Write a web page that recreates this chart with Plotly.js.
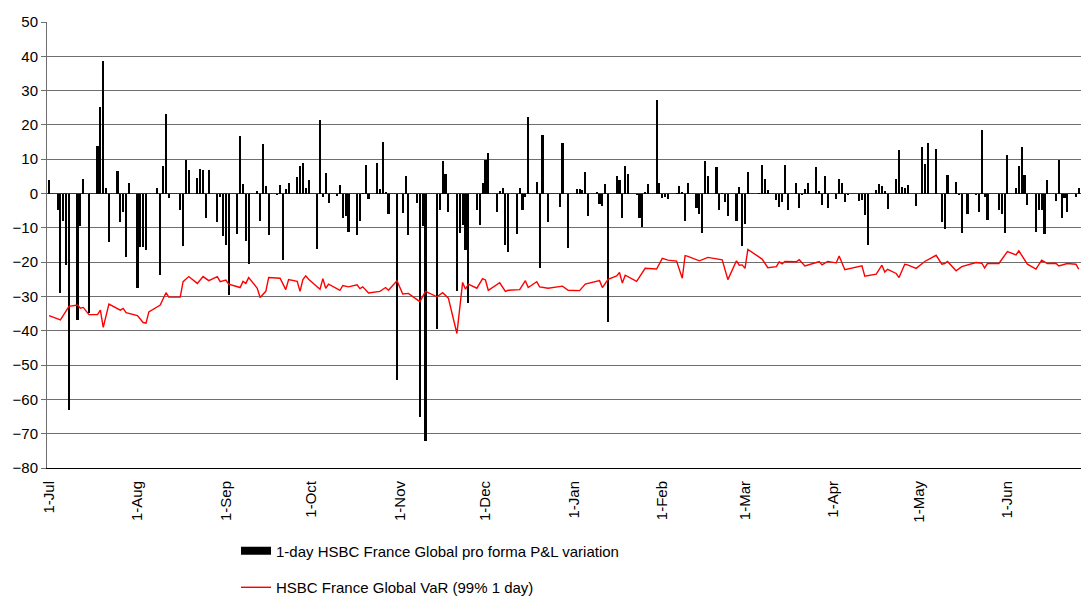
<!DOCTYPE html>
<html>
<head>
<meta charset="utf-8">
<script src="https://cdn.plot.ly/plotly-3.0.1.min.js"></script>
<style>html,body{margin:0;padding:0;background:#fff;}#chart{width:1081px;height:598px;}</style>
</head>
<body>
<div id="chart"></div>
<script>
// 1-day P&L variation (trading days, Jul 2011 - Jun 2012)
const pnlDates = [
"2011-07-01","2011-07-04","2011-07-05","2011-07-06","2011-07-07","2011-07-08","2011-07-11","2011-07-12","2011-07-13","2011-07-15",
"2011-07-18","2011-07-19","2011-07-20","2011-07-21","2011-07-22","2011-07-25","2011-07-26","2011-07-27","2011-07-28","2011-07-29",
"2011-08-01","2011-08-02","2011-08-03","2011-08-04","2011-08-08","2011-08-09","2011-08-10","2011-08-11","2011-08-12",
"2011-08-16","2011-08-17","2011-08-18","2011-08-19","2011-08-22","2011-08-23","2011-08-24","2011-08-25","2011-08-26",
"2011-08-29","2011-08-30","2011-08-31","2011-09-01","2011-09-02","2011-09-05","2011-09-06","2011-09-07","2011-09-08","2011-09-09",
"2011-09-12","2011-09-13","2011-09-14","2011-09-15","2011-09-16","2011-09-19","2011-09-20","2011-09-21","2011-09-22","2011-09-23",
"2011-09-26","2011-09-27","2011-09-28","2011-09-29","2011-09-30","2011-10-03","2011-10-04","2011-10-05","2011-10-06","2011-10-07",
"2011-10-10","2011-10-11","2011-10-12","2011-10-13","2011-10-14","2011-10-17","2011-10-18","2011-10-19","2011-10-20","2011-10-21",
"2011-10-24","2011-10-25","2011-10-26","2011-10-27","2011-10-28","2011-10-31","2011-11-02","2011-11-03","2011-11-04",
"2011-11-07","2011-11-08","2011-11-09","2011-11-10","2011-11-14","2011-11-15","2011-11-16","2011-11-17","2011-11-18",
"2011-11-21","2011-11-22","2011-11-23","2011-11-24","2011-11-25","2011-11-28","2011-11-29","2011-11-30","2011-12-01","2011-12-02",
"2011-12-05","2011-12-06","2011-12-07","2011-12-08","2011-12-09","2011-12-12","2011-12-13","2011-12-14","2011-12-15","2011-12-16",
"2011-12-19","2011-12-20","2011-12-21","2011-12-23","2011-12-27","2011-12-28","2011-12-30",
"2012-01-02","2012-01-03","2012-01-04","2012-01-05","2012-01-06","2012-01-09","2012-01-10","2012-01-11","2012-01-12","2012-01-13",
"2012-01-16","2012-01-17","2012-01-18","2012-01-19","2012-01-20","2012-01-23","2012-01-24","2012-01-25","2012-01-26","2012-01-27",
"2012-01-30","2012-01-31","2012-02-01","2012-02-02","2012-02-03","2012-02-06","2012-02-07","2012-02-08","2012-02-09","2012-02-10",
"2012-02-13","2012-02-14","2012-02-15","2012-02-16","2012-02-17","2012-02-20","2012-02-21","2012-02-22","2012-02-23","2012-02-24",
"2012-02-27","2012-02-28","2012-02-29","2012-03-01","2012-03-02","2012-03-06","2012-03-07","2012-03-08","2012-03-09",
"2012-03-12","2012-03-13","2012-03-14","2012-03-15","2012-03-16","2012-03-19","2012-03-20","2012-03-21","2012-03-22","2012-03-23",
"2012-03-26","2012-03-27","2012-03-28","2012-03-29","2012-03-30","2012-04-02","2012-04-03","2012-04-04","2012-04-05","2012-04-06",
"2012-04-10","2012-04-11","2012-04-12","2012-04-13","2012-04-16","2012-04-17","2012-04-18","2012-04-19","2012-04-20",
"2012-04-23","2012-04-24","2012-04-25","2012-04-26","2012-04-27","2012-04-30","2012-05-02","2012-05-03","2012-05-04",
"2012-05-07","2012-05-09","2012-05-10","2012-05-11","2012-05-14","2012-05-15","2012-05-16","2012-05-18",
"2012-05-21","2012-05-22","2012-05-23","2012-05-24","2012-05-25","2012-05-29","2012-05-30","2012-05-31","2012-06-01",
"2012-06-04","2012-06-05","2012-06-06","2012-06-07","2012-06-08","2012-06-11","2012-06-12","2012-06-13","2012-06-14","2012-06-15",
"2012-06-18","2012-06-19","2012-06-20","2012-06-21","2012-06-22","2012-06-25","2012-06-26"
];
const pnlValues = [
4,-4.8,-29,-8,-20.8,-63,-37,-9.6,4.2,-34.9,
13.9,25.1,38.5,1.5,-14.2,6.7,-8.2,-5.4,-18.5,3.1,
-27.6,-15.5,-15.7,-16.4,1.5,-23.7,7.9,23.3,-1.2,
-4.9,-15.4,9.8,6.8,4.4,7.2,6.8,-7.1,6.9,
-8.4,-1,-12.5,-14.9,-29.6,-11.7,16.8,2.7,-13.8,-20.4,
0.6,-8,14.3,2.2,-12,-0.4,2.5,-19.4,1.2,3.2,
4.7,7.9,9,1.5,4,-16.1,21.5,-1.1,5.9,-2.9,
-0.8,2.5,-7,-6.4,-11.3,-12.2,-8,0.2,8.3,-1.7,
8.8,1.3,15,0.4,-6,-54.3,-5.7,5.1,-12,
-2.7,-65.2,-9.5,-72.1,-39.5,-4.9,9.4,5.8,-5.5,
-28.5,-11.4,-9.2,-16.4,-31.8,-4.7,-9.2,3.2,9.8,11.9,
-5.5,0.6,1.5,-15,-16.9,-11.7,1.7,-4.9,-0.9,22.4,
3.5,-21.6,17.1,-8.4,-3.8,14.6,-15.9,
1.3,1.3,1.1,6.4,-6.4,0.4,-3.1,-3.5,2.7,-37.4,
5,3.9,-7.2,8.1,5.7,-0.4,-7.1,-9.7,0.5,2.9,
27.3,3.2,-1.3,-1,-1.5,0.2,2.3,0.4,-8,3.2,
-4.3,-6,-11.5,9.4,5,7.7,-4.7,0.1,-2.5,-6.4,
-8,1.8,-15.4,-8.9,6.2,0.2,8.3,4.2,1.1,
-1.9,-3.8,-2.6,8.3,-4.9,3.2,-4.1,-0.5,1.4,3,
7.6,0.8,-3.2,5,-4.1,-1.5,4.2,3.1,-2.4,-0.3,
-2.3,-1.8,-6.2,-15.1,1,2.7,2.1,0.7,-4.4,
4.2,12.6,2,1.6,2.5,-3.5,13.6,8.6,14.8,
12.9,-8.2,-10.2,5.4,3.5,-0.4,-11.4,-6,
-0.5,-5.5,18.6,-1,-7.6,-4.9,-6,-11.4,11.2,
1.6,8,13.6,5.3,-3.3,-11.3,-4.7,-4.7,-11.8,4,
-2.3,9.8,-7.2,-1.2,-5.5,-1,1.7
];

// VaR (99% 1 day), read at the line's turning points
const varDates = [
"2011-07-01","2011-07-05","2011-07-08","2011-07-11","2011-07-12","2011-07-13","2011-07-15","2011-07-18","2011-07-19","2011-07-20",
"2011-07-22","2011-07-26","2011-07-27","2011-07-28","2011-08-01","2011-08-03","2011-08-04","2011-08-05","2011-08-09","2011-08-11",
"2011-08-12","2011-08-16","2011-08-17","2011-08-19","2011-08-22","2011-08-24","2011-08-26","2011-08-29","2011-08-30","2011-09-01",
"2011-09-02","2011-09-06","2011-09-07","2011-09-08","2011-09-09","2011-09-12","2011-09-13","2011-09-15","2011-09-16","2011-09-20",
"2011-09-22","2011-09-23","2011-09-26","2011-09-27","2011-09-28","2011-09-29","2011-09-30","2011-10-04","2011-10-05","2011-10-06",
"2011-10-07","2011-10-11","2011-10-12","2011-10-14","2011-10-17","2011-10-18","2011-10-19","2011-10-21","2011-10-25","2011-10-27",
"2011-10-28","2011-10-31","2011-11-02","2011-11-04","2011-11-08","2011-11-10","2011-11-14","2011-11-16","2011-11-18","2011-11-21",
"2011-11-23","2011-11-24","2011-11-25","2011-11-28","2011-11-30","2011-12-01","2011-12-02","2011-12-06","2011-12-08","2011-12-09",
"2011-12-13","2011-12-15","2011-12-16","2011-12-19","2011-12-20","2011-12-23","2011-12-28","2011-12-30","2012-01-03","2012-01-05",
"2012-01-10","2012-01-11","2012-01-13","2012-01-16","2012-01-17","2012-01-18","2012-01-19","2012-01-23","2012-01-26","2012-01-30",
"2012-02-01","2012-02-03","2012-02-06","2012-02-08","2012-02-09","2012-02-10","2012-02-14","2012-02-17","2012-02-22","2012-02-24",
"2012-02-27","2012-02-28","2012-02-29","2012-03-01","2012-03-02","2012-03-07","2012-03-09","2012-03-12","2012-03-13","2012-03-14",
"2012-03-15","2012-03-19","2012-03-20","2012-03-22","2012-03-26","2012-03-27","2012-03-28","2012-03-30","2012-04-02","2012-04-03",
"2012-04-05","2012-04-11","2012-04-12","2012-04-16","2012-04-18","2012-04-19","2012-04-20","2012-04-23","2012-04-24","2012-04-26",
"2012-04-27","2012-04-30","2012-05-03","2012-05-07","2012-05-09","2012-05-10","2012-05-11","2012-05-14","2012-05-16","2012-05-21",
"2012-05-23","2012-05-24","2012-05-25","2012-05-29","2012-06-01","2012-06-04","2012-06-05","2012-06-08","2012-06-11","2012-06-13",
"2012-06-15","2012-06-18","2012-06-19","2012-06-22","2012-06-25","2012-06-26"
];
const varValues = [
-35.6,-36.8,-32.9,-32.5,-33.4,-33.2,-35.3,-35.3,-34,-39,
-32.2,-34,-33.5,-34.7,-35.6,-37.6,-37.8,-34.5,-32.5,-28.9,
-30.2,-30.2,-25.7,-24.2,-26.2,-24.2,-25.4,-24.2,-25.7,-25.2,
-26.4,-27.4,-25.6,-26.2,-24.5,-27.6,-30.3,-28.5,-24.5,-24.7,
-28,-25.1,-25.6,-28.5,-25.1,-24,-25,-27.9,-24.8,-27.6,
-26.4,-28.2,-26.8,-27.2,-26.6,-27.7,-27.2,-29,-28.5,-27.4,
-28.2,-25.4,-29.3,-29.1,-31.5,-28.5,-30.1,-28.9,-30.5,-40.8,
-25.9,-27.9,-26.4,-27.6,-24.8,-25.2,-28.2,-26,-28.5,-28.2,
-28,-25.4,-27.4,-25.7,-27.2,-27.6,-27,-28.2,-28.3,-26.4,
-25.4,-27.4,-25,-24,-23,-26.1,-23.8,-25.6,-21.8,-22,
-18.9,-19.4,-19.7,-24.7,-18.1,-18.3,-19.6,-18.6,-19.3,-25.1,
-19.6,-20.9,-20.8,-21.8,-16.3,-19.1,-21.6,-21.3,-19.9,-20.5,
-19.8,-19.9,-19.3,-21.1,-20.1,-19.8,-20.8,-19.8,-20.2,-18.2,
-22.2,-21.1,-24.1,-23.5,-20.9,-22.9,-22.1,-23.3,-24.5,-20.6,
-20.8,-21.8,-19.8,-18,-20.6,-20.4,-19.8,-22.5,-21.3,-20.1,
-20.3,-21.7,-20.4,-20.4,-16.9,-17.9,-16.7,-20.6,-22,-19.4,
-20.4,-20.3,-21.1,-20.4,-20.6,-22
];

const pnlName = "1-day HSBC France Global pro forma P&L variation";
const varName = "HSBC France Global VaR (99% 1 day)";

const FONT = "Liberation Sans, Arial, sans-serif";
const DAY_MS = 86400000;

const traces = [
  {
    type: "bar", x: pnlDates, y: pnlValues, name: pnlName,
    marker: {color: "#000000", line: {width: 0}},
    width: 0.74 * DAY_MS, showlegend: false
  },
  {
    type: "scatter", mode: "lines", x: varDates, y: varValues, name: varName,
    line: {color: "#ff0000", width: 1.4}, legend: "legend2"
  },
  {
    type: "scatter", mode: "lines", x: [null], y: [null], name: pnlName,
    line: {color: "#000000", width: 8}, legend: "legend"
  }
];

const layout = {
  width: 1081, height: 598,
  margin: {l: 47, r: 0, t: 22, b: 130, autoexpand: false},
  paper_bgcolor: "#ffffff", plot_bgcolor: "#ffffff",
  font: {family: FONT, size: 15, color: "#000000"},
  bargap: 0,
  xaxis: {
    type: "date",
    range: ["2011-06-30 07:00", "2012-06-26 19:00"],
    tick0: "2011-07-01", dtick: "M1", tickformat: "%-d-%b",
    tickangle: -90, showgrid: false, zeroline: false,
    showline: true, linecolor: "#000000", linewidth: 1,
    ticks: "", ticklabelstandoff: 6, automargin: false,
    tickfont: {family: FONT, size: 15, color: "#000000"}
  },
  yaxis: {
    range: [-80, 50], dtick: 10, tick0: 0, automargin: false,
    showgrid: true, gridcolor: "#6e6e6e", gridwidth: 1,
    zeroline: true, zerolinecolor: "#333333", zerolinewidth: 1,
    showline: true, linecolor: "#6e6e6e", linewidth: 1,
    ticks: "outside", ticklen: 5, tickcolor: "#6e6e6e",
    tickfont: {family: FONT, size: 15, color: "#000000"}
  },
  legend: {
    x: 0.1828, xanchor: "left", y: -0.186, yanchor: "middle",
    bgcolor: "rgba(0,0,0,0)", font: {family: FONT, size: 15, color: "#000000"}
  },
  legend2: {
    x: 0.1828, xanchor: "left", y: -0.268, yanchor: "middle",
    bgcolor: "rgba(0,0,0,0)", font: {family: FONT, size: 15, color: "#000000"}
  },
  hovermode: false
};

Plotly.newPlot("chart", traces, layout, {staticPlot: true, displayModeBar: false});
</script>
</body>
</html>
